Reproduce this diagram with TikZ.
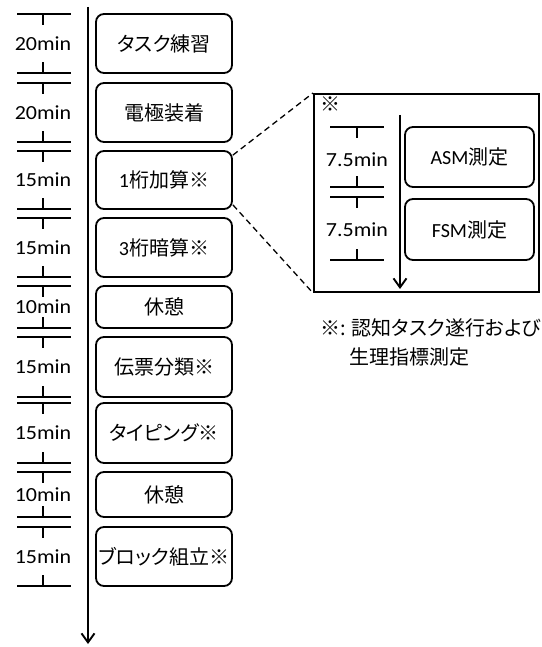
\documentclass[tikz,border=0pt]{standalone}
\usepackage{fontspec}
\setmainfont{Carlito}
\newfontfamily\cjk[RawFeature=+palt]{Noto Sans CJK JP}
\usetikzlibrary{arrows.meta,calc}
\newcommand\mn[1]{\scalebox{1.1}[1]{#1}}
\newcommand\segment[5]{% #1 top, #2 bottom, #3 label, #4 name, #5 text
  \draw[ruler] (17,#1) -- (71,#1) (43,#1) -- (43,#1+11);
  \draw[ruler] (17,#2) -- (71,#2) (43,#2) -- (43,#2-11);
  \node[minlab] (l#4) at (43,{(#1+#2)/2}) {\mn{#3}};
  \node[taskbox, minimum width=136pt, minimum height={#2pt-#1pt}] (#4) at (164,{(#1+#2)/2}) {#5};
}
\begin{document}
\begin{tikzpicture}[x=1pt,y=-1pt,
  ruler/.style={line width=1.8pt},
  axisline/.style={line width=1.9pt},
  minlab/.style={font=\fontsize{20}{24}\selectfont, inner sep=0pt},
  taskbox/.style={draw, rounded corners=8pt, line width=1.8pt, inner sep=0pt,
    font=\fontsize{20}{24}\selectfont},
  dashline/.style={line width=1.3pt, dash pattern=on 6pt off 4pt},
  barb/.style={-{Straight Barb[length=9pt,width=13pt,line width=1.9pt]}}]
\useasboundingbox (0,0) rectangle (541,647);
% main time axis
\coordinate (axtop) at (88,7);
\coordinate (axend) at (88,644);
\draw[axisline,barb] (axtop) -- (axend);
\segment{14}{73}{20min}{b1}{\cjk タスク練習}
\segment{83}{142}{20min}{b2}{\cjk 電極装着}
\segment{151}{209}{15min}{b3}{1{\cjk 桁加算※}}
\segment{218}{277}{15min}{b4}{3{\cjk 桁暗算※}}
\segment{286}{328}{10min}{b5}{\cjk 休憩}
\segment{337}{397}{15min}{b6}{\cjk 伝票分類※}
\segment{403}{463}{15min}{b7}{\cjk タイピング※}
\segment{472}{517}{10min}{b8}{\cjk 休憩}
\segment{527}{586}{15min}{b9}{\cjk ブロック組立※}
% detail box
\node[draw, line width=2pt, minimum width=225pt, minimum height=198pt, inner sep=0pt] (det) at (426.5,193) {};
\node[font=\fontsize{20}{24}\selectfont\cjk, inner sep=0pt] (mark) at (330,104) {※};
\coordinate (itop) at (400,115);
\coordinate (iend) at (400,289);
\draw[axisline,barb] (itop) -- (iend);
\draw[ruler] (330,127) -- (384,127) (357,127) -- (357,138);
\draw[ruler] (330,187) -- (384,187) (357,187) -- (357,176);
\draw[ruler] (330,197) -- (384,197) (357,197) -- (357,208);
\draw[ruler] (330,260) -- (384,260) (357,260) -- (357,249);
\node[minlab] (la) at (357,160) {\mn{7.5min}};
\node[minlab] (lf) at (357,230) {\mn{7.5min}};
\node[taskbox, minimum width=129pt, minimum height=60pt] (asm) at (469.5,157) {ASM{\cjk 測定}};
\node[taskbox, minimum width=129pt, minimum height=61pt] (fsm) at (469.5,229.5) {FSM{\cjk 測定}};
% zoom lines
\draw[dashline] ([yshift=-5pt]b3.north east) -- (det.north west);
\draw[dashline] ([yshift=5pt]b3.south east) -- (det.south west);
% caption
\node[anchor=west, inner sep=0pt, font=\fontsize{20}{24}\selectfont\cjk] (cap1) at (320,328) {※: 認知タスク遂行および};
\node[anchor=west, inner sep=0pt, font=\fontsize{20}{24}\selectfont\cjk] (cap2) at (349,357) {生理指標測定};
\end{tikzpicture}
\end{document}
